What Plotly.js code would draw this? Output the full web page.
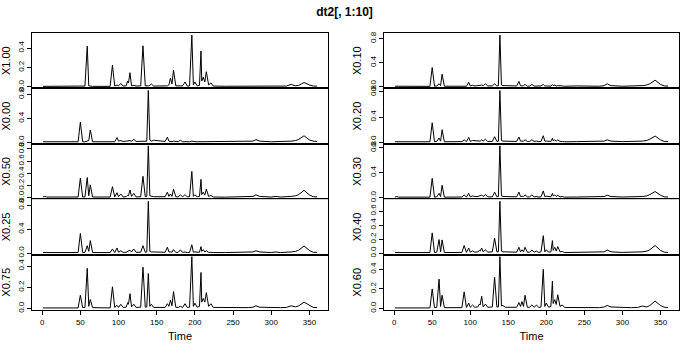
<!DOCTYPE html>
<html>
<head>
<meta charset="utf-8">
<script src="https://cdn.plot.ly/plotly-3.0.1.min.js"></script>
<style>
  html, body { margin: 0; padding: 0; background: #ffffff; }
  #chart { width: 689px; height: 350px; }
</style>
</head>
<body>
<div id="chart"></div>
<script>
// Sampling times shared by all ten spectra
const time = [
  1, 3, 6, 30, 47, 50, 53, 56, 59, 61, 63, 66,
  89, 92, 95, 98, 100, 103, 106, 110, 112, 113, 115, 117, 120, 123, 129, 132, 135, 137, 139, 141, 143, 146,
  161, 164, 166, 168, 170, 172, 175, 178, 181, 184, 187, 190, 193, 196, 198, 200, 203,
  206, 208, 209, 211, 213, 215, 218, 221, 224,
  240, 270, 276, 280, 285, 300, 306, 312, 320, 326, 332, 336, 343, 350, 355, 360
];

const x100 = [
  0.005, 0.005, 0.005, 0.005, 0.005, 0.012, 0.005, 0.008, 0.42, 0.01, 0.008, 0.005,
  0.005, 0.226, 0.008, 0.02, 0.01, 0.035, 0.008, 0.01, 0.06, 0.04, 0.146, 0.01, 0.015, 0.008, 0.01, 0.424, 0.01, 0.008, 0.01, 0.015, 0.03, 0.008,
  0.005, 0.01, 0.02, 0.09, 0.03, 0.174, 0.01, 0.008, 0.012, 0.01, 0.05, 0.008, 0.01, 0.535, 0.02, 0.05, 0.01,
  0.015, 0.37, 0.06, 0.1, 0.05, 0.156, 0.02, 0.04, 0.008,
  0.006, 0.006, 0.008, 0.012, 0.008, 0.006, 0.008, 0.006, 0.008, 0.025, 0.01, 0.015, 0.045, 0.02, 0.008, 0.008
];

const x000 = [
  0.01, 0.01, 0.01, 0.01, 0.01, 0.337, 0.01, 0.01, 0.015, 0.03, 0.206, 0.01,
  0.01, 0.012, 0.01, 0.08, 0.02, 0.03, 0.015, 0.02, 0.025, 0.02, 0.03, 0.02, 0.05, 0.015, 0.012, 0.02, 0.015, 0.02, 0.87, 0.04, 0.02, 0.035,
  0.015, 0.086, 0.02, 0.015, 0.012, 0.02, 0.01, 0.012, 0.035, 0.01, 0.012, 0.01, 0.01, 0.02, 0.01, 0.012, 0.01,
  0.01, 0.015, 0.01, 0.012, 0.01, 0.012, 0.01, 0.01, 0.01,
  0.01, 0.012, 0.02, 0.045, 0.02, 0.01, 0.012, 0.01, 0.015, 0.02, 0.03, 0.05, 0.11, 0.04, 0.02, 0.015
];

const x050 = [
  0.01, 0.02, 0.01, 0.008, 0.01, 0.32, 0.01, 0.012, 0.33, 0.03, 0.21, 0.01,
  0.01, 0.18, 0.012, 0.08, 0.015, 0.06, 0.012, 0.015, 0.04, 0.03, 0.125, 0.02, 0.07, 0.012, 0.015, 0.35, 0.015, 0.02, 0.85, 0.03, 0.025, 0.015,
  0.015, 0.09, 0.02, 0.06, 0.02, 0.14, 0.015, 0.012, 0.045, 0.012, 0.05, 0.012, 0.015, 0.43, 0.02, 0.045, 0.015,
  0.02, 0.3, 0.05, 0.09, 0.04, 0.14, 0.02, 0.035, 0.01,
  0.008, 0.01, 0.02, 0.045, 0.02, 0.01, 0.02, 0.01, 0.012, 0.02, 0.03, 0.05, 0.12, 0.045, 0.015, 0.012
];

const x025 = [
  0.01, 0.01, 0.01, 0.01, 0.01, 0.33, 0.01, 0.012, 0.125, 0.03, 0.21, 0.01,
  0.01, 0.07, 0.01, 0.087, 0.015, 0.04, 0.012, 0.015, 0.03, 0.025, 0.05, 0.02, 0.07, 0.015, 0.015, 0.125, 0.015, 0.02, 0.87, 0.03, 0.02, 0.02,
  0.015, 0.1, 0.02, 0.02, 0.015, 0.06, 0.012, 0.012, 0.055, 0.012, 0.02, 0.01, 0.012, 0.14, 0.015, 0.02, 0.012,
  0.015, 0.11, 0.03, 0.06, 0.02, 0.04, 0.012, 0.015, 0.01,
  0.01, 0.01, 0.02, 0.04, 0.02, 0.01, 0.02, 0.01, 0.012, 0.02, 0.03, 0.05, 0.12, 0.045, 0.015, 0.012
];

const x075 = [
  0.005, 0.005, 0.005, 0.005, 0.005, 0.125, 0.008, 0.01, 0.38, 0.02, 0.085, 0.008,
  0.005, 0.205, 0.01, 0.03, 0.01, 0.04, 0.01, 0.012, 0.055, 0.04, 0.14, 0.015, 0.04, 0.01, 0.012, 0.39, 0.012, 0.015, 0.33, 0.02, 0.04, 0.01,
  0.01, 0.045, 0.02, 0.08, 0.025, 0.16, 0.012, 0.01, 0.02, 0.01, 0.045, 0.01, 0.012, 0.49, 0.02, 0.05, 0.012,
  0.02, 0.34, 0.06, 0.095, 0.06, 0.15, 0.02, 0.045, 0.01,
  0.008, 0.008, 0.012, 0.025, 0.012, 0.008, 0.008, 0.008, 0.01, 0.025, 0.015, 0.025, 0.06, 0.03, 0.01, 0.008
];

const x010 = [
  0.01, 0.01, 0.008, 0.008, 0.008, 0.32, 0.01, 0.015, 0.05, 0.02, 0.21, 0.01,
  0.01, 0.02, 0.01, 0.075, 0.015, 0.025, 0.015, 0.02, 0.025, 0.02, 0.03, 0.02, 0.05, 0.015, 0.015, 0.05, 0.015, 0.02, 0.86, 0.03, 0.02, 0.02,
  0.015, 0.09, 0.02, 0.015, 0.02, 0.04, 0.012, 0.012, 0.04, 0.012, 0.015, 0.012, 0.015, 0.04, 0.015, 0.015, 0.012,
  0.012, 0.035, 0.02, 0.03, 0.015, 0.02, 0.012, 0.015, 0.01,
  0.015, 0.01, 0.02, 0.05, 0.02, 0.01, 0.012, 0.01, 0.012, 0.02, 0.03, 0.05, 0.11, 0.04, 0.015, 0.012
];

const x020 = [
  0.01, 0.01, 0.01, 0.01, 0.01, 0.31, 0.01, 0.015, 0.07, 0.02, 0.2, 0.01,
  0.012, 0.04, 0.012, 0.08, 0.015, 0.03, 0.03, 0.02, 0.025, 0.02, 0.04, 0.02, 0.05, 0.015, 0.015, 0.09, 0.015, 0.02, 0.82, 0.03, 0.02, 0.02,
  0.015, 0.085, 0.02, 0.02, 0.02, 0.04, 0.015, 0.015, 0.04, 0.015, 0.02, 0.012, 0.015, 0.105, 0.02, 0.02, 0.015,
  0.015, 0.065, 0.025, 0.04, 0.02, 0.04, 0.015, 0.015, 0.01,
  0.012, 0.012, 0.02, 0.04, 0.02, 0.012, 0.012, 0.012, 0.015, 0.02, 0.03, 0.05, 0.1, 0.04, 0.015, 0.012
];

const x030 = [
  0.01, 0.02, 0.01, 0.01, 0.01, 0.31, 0.01, 0.015, 0.07, 0.02, 0.2, 0.01,
  0.012, 0.045, 0.012, 0.07, 0.015, 0.03, 0.02, 0.02, 0.03, 0.025, 0.045, 0.02, 0.05, 0.015, 0.015, 0.09, 0.015, 0.02, 0.83, 0.03, 0.02, 0.02,
  0.015, 0.09, 0.02, 0.025, 0.02, 0.045, 0.015, 0.015, 0.045, 0.015, 0.02, 0.012, 0.015, 0.11, 0.02, 0.025, 0.015,
  0.015, 0.07, 0.03, 0.045, 0.02, 0.04, 0.015, 0.02, 0.01,
  0.012, 0.012, 0.02, 0.04, 0.02, 0.012, 0.012, 0.012, 0.015, 0.02, 0.03, 0.05, 0.1, 0.04, 0.015, 0.012
];

const x040 = [
  0.01, 0.01, 0.01, 0.01, 0.01, 0.29, 0.01, 0.015, 0.195, 0.02, 0.19, 0.01,
  0.012, 0.11, 0.012, 0.075, 0.015, 0.035, 0.015, 0.02, 0.04, 0.03, 0.075, 0.02, 0.05, 0.015, 0.02, 0.215, 0.02, 0.02, 0.74, 0.03, 0.02, 0.02,
  0.015, 0.085, 0.02, 0.05, 0.02, 0.085, 0.015, 0.015, 0.045, 0.015, 0.03, 0.012, 0.02, 0.25, 0.02, 0.05, 0.015,
  0.02, 0.18, 0.04, 0.085, 0.03, 0.095, 0.02, 0.025, 0.01,
  0.012, 0.012, 0.02, 0.045, 0.02, 0.012, 0.012, 0.012, 0.015, 0.02, 0.03, 0.05, 0.11, 0.04, 0.015, 0.012
];

const x060 = [
  0.005, 0.005, 0.005, 0.005, 0.005, 0.2, 0.008, 0.012, 0.3, 0.02, 0.135, 0.008,
  0.008, 0.17, 0.01, 0.055, 0.012, 0.035, 0.012, 0.015, 0.045, 0.035, 0.125, 0.015, 0.045, 0.012, 0.015, 0.32, 0.015, 0.015, 0.53, 0.025, 0.03, 0.012,
  0.012, 0.06, 0.02, 0.07, 0.02, 0.135, 0.012, 0.012, 0.035, 0.012, 0.035, 0.01, 0.015, 0.4, 0.02, 0.055, 0.012,
  0.02, 0.28, 0.05, 0.09, 0.04, 0.14, 0.02, 0.035, 0.01,
  0.008, 0.008, 0.015, 0.03, 0.015, 0.008, 0.008, 0.008, 0.01, 0.025, 0.015, 0.03, 0.075, 0.03, 0.012, 0.01
];

// Panel order: left column top to bottom, then right column top to bottom
const seriesNames = ['X1.00', 'X0.00', 'X0.50', 'X0.25', 'X0.75', 'X0.10', 'X0.20', 'X0.30', 'X0.40', 'X0.60'];
const seriesValues = [x100, x000, x050, x025, x075, x010, x020, x030, x040, x060];
const yTickStep = [0.2, 0.4, 0.2, 0.4, 0.2, 0.4, 0.4, 0.4, 0.2, 0.2];
const timeTicks = [0, 50, 100, 150, 200, 250, 300, 350];

const W = 689, H = 350;
const colX = [[32, 328], [384, 679]];
const panelTop = 33, panelH = 55.4;
const fontFamily = 'Liberation Sans, Arial, Helvetica, sans-serif';

// R-style 4% padding around the data range
function padded(arr) {
  const lo = Math.min(...arr), hi = Math.max(...arr);
  const d = (hi - lo) * 0.04;
  return [lo - d, hi + d];
}
const tRange = padded(time);

const traces = [];
const layout = {
  width: W, height: H,
  margin: { l: 0, r: 0, t: 0, b: 0 },
  paper_bgcolor: '#ffffff',
  plot_bgcolor: '#ffffff',
  showlegend: false,
  font: { family: fontFamily, color: '#000000' },
  title: {
    text: '<b>dt2[, 1:10]</b>',
    x: 0.5, xanchor: 'center',
    y: 1 - 12 / H, yanchor: 'middle',
    font: { size: 12, family: fontFamily, color: '#000000' }
  }
};

seriesNames.forEach((name, i) => {
  const col = Math.floor(i / 5);
  const row = i % 5;
  const n = i + 1;
  const xa = 'x' + (n === 1 ? '' : n);
  const ya = 'y' + (n === 1 ? '' : n);
  traces.push({
    type: 'scatter', mode: 'lines',
    x: time, y: seriesValues[i],
    xaxis: xa, yaxis: ya,
    line: { color: '#000000', width: 1 },
    hoverinfo: 'skip'
  });

  const top = panelTop + row * panelH;
  const bottom = top + panelH;
  const isBottom = row === 4;

  layout['xaxis' + (n === 1 ? '' : n)] = {
    domain: [colX[col][0] / W, colX[col][1] / W],
    anchor: ya,
    range: tRange,
    showgrid: false, zeroline: false,
    showline: true, mirror: true, linecolor: '#000000', linewidth: 1,
    ticks: isBottom ? 'outside' : '',
    ticklen: 4, tickcolor: '#000000', tickwidth: 1,
    tickvals: timeTicks,
    showticklabels: isBottom,
    tickfont: { size: 8, family: fontFamily, color: '#000000' },
    title: isBottom ? { text: 'Time', font: { size: 11, family: fontFamily, color: '#000000' }, standoff: 6 } : { text: '' }
  };

  const yr = padded(seriesValues[i]);
  layout['yaxis' + (n === 1 ? '' : n)] = {
    domain: [1 - bottom / H, 1 - top / H],
    anchor: xa,
    range: yr,
    showgrid: false, zeroline: false,
    showline: true, mirror: true, linecolor: '#000000', linewidth: 1,
    ticks: 'outside', ticklen: 4, tickcolor: '#000000', tickwidth: 1,
    tick0: 0, dtick: yTickStep[i],
    tickformat: '.1f',
    tickangle: -90,
    tickfont: { size: 8, family: fontFamily, color: '#000000' },
    title: { text: name, font: { size: 11, family: fontFamily, color: '#000000' }, standoff: 4 }
  };
});

Plotly.newPlot('chart', traces, layout, { staticPlot: true, displayModeBar: false });
</script>
</body>
</html>
